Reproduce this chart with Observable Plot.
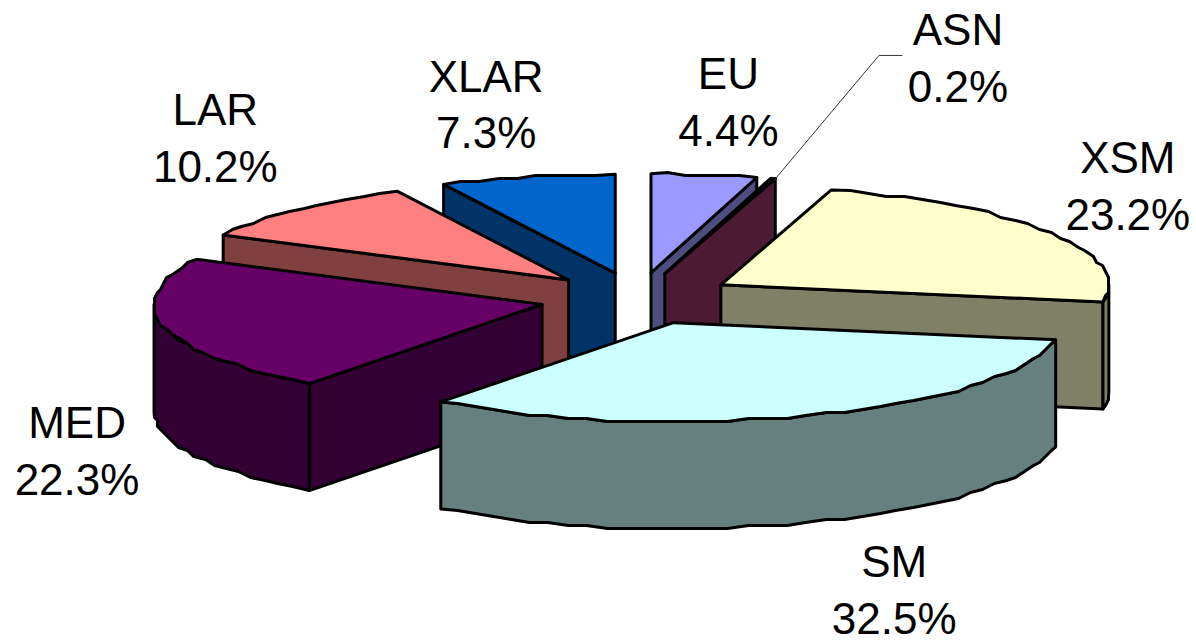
<!DOCTYPE html>
<html>
<head>
<meta charset="utf-8">
<style>html,body{margin:0;padding:0;background:#fff}svg{display:block}</style>
<script src="https://cdn.jsdelivr.net/npm/d3@7"></script>
<script src="https://cdn.jsdelivr.net/npm/@observablehq/plot@0.6"></script>
</head>
<body>
<div id="chart"></div>
<script>
// Data
const categories = ["EU", "ASN", "XSM", "SM", "MED", "LAR", "XLAR"];
const shares = [4.4, 0.2, 23.2, 32.5, 22.3, 10.2, 7.3];

// Styles
const topColors = ["#9999ff", "#993366", "#ffffcc", "#ccffff", "#660066", "#ff8080", "#0066cc"];
const wallColors = ["#4d4d80", "#4d1a33", "#808066", "#668080", "#330033", "#804040", "#003366"];
const drawOrder = ["EU", "ASN", "XLAR", "LAR", "XSM", "MED", "SM"];

// Layout of the projected pie (pixels on the 1196x644 canvas)
const W = 1196, H = 644;
const centerX = 637, centerY = 298, radiusX = 388, radiusY = 99, depthPx = 107;
const explodeX = 98 / radiusX, explodeY = 26 / radiusY;
const labelDx = [24, 185, 77, 78, -87, -81, -41];
const labelDy = [-75, -123, -49, 173, 122, -74, -75];
const depth = depthPx / radiusY;
const step = 3 * Math.PI / 180;
const snapPx = 3; // the reference rim is slightly stepped, not smooth

const arcs = d3.pie().sort(null).value(d => d)(shares);
const slices = categories.map((name, i) => {
  const a0 = arcs[i].startAngle, a1 = arcs[i].endAngle, mid = (a0 + a1) / 2;
  const ox = explodeX * Math.sin(mid), oy = -explodeY * Math.cos(mid);
  const rim = a => ({u: ox + Math.sin(a), v: oy - Math.cos(a)});
  const snap = p => ({
    u: Math.round(p.u * radiusX / snapPx) * snapPx / radiusX,
    v: Math.round(p.v * radiusY / snapPx) * snapPx / radiusY
  });
  const sweep = (from, to) => {
    const n = Math.max(1, Math.ceil((to - from) / step));
    return d3.range(n + 1).map(k => {
      const p = rim(from + (to - from) * k / n);
      return k === 0 || k === n ? p : snap(p);
    });
  };
  return {name, i, a0, a1, mid, ox, oy, rim, sweep};
});
const drop = p => ({u: p.u, v: p.v + depth});

function faces(s) {
  const apex = {u: s.ox, v: s.oy};
  const out = [];
  const cutFace = a => {
    const r = s.rim(a);
    out.push({pts: [apex, r, drop(r), drop(apex)], fill: wallColors[s.i]});
  };
  if (Math.sin(s.a0) < 0) cutFace(s.a0);
  if (Math.sin(s.a1) > 0) cutFace(s.a1);
  // Outer wall: only the front half of the rim (between 90° and 270°)
  const from = Math.max(s.a0, Math.PI / 2), to = Math.min(s.a1, 3 * Math.PI / 2);
  if (to > from) {
    const arc = s.sweep(from, to);
    out.push({pts: [...arc, ...arc.slice().reverse().map(drop)], fill: wallColors[s.i]});
  }
  out.push({pts: [apex, ...s.sweep(s.a0, s.a1)], fill: topColors[s.i]});
  return out;
}

const faceMarks = drawOrder.flatMap(name =>
  faces(slices[categories.indexOf(name)]).map(f =>
    Plot.line(f.pts, {
      x: "u", y: "v", fill: f.fill, stroke: "#000", strokeWidth: 3,
      strokeLinejoin: "round", curve: "linear-closed"
    })
  )
);

const labels = slices.map(s => {
  const r = s.rim(s.mid);
  return {
    u: r.u + labelDx[s.i] / radiusX,
    v: r.v + labelDy[s.i] / radiusY,
    text: `${s.name}\n${d3.format(".1f")(shares[s.i])}%`
  };
});

// Leader from the ASN slice to its label
const asn = slices[categories.indexOf("ASN")];
const asnRim = asn.rim(asn.mid);
const asnLabel = labels[asn.i];
const leader = [
  {u: asnRim.u + 1 / radiusX, v: asnRim.v + 2 / radiusY},
  {u: asnLabel.u - 79 / radiusX, v: asnLabel.v},
  {u: asnLabel.u - 56 / radiusX, v: asnLabel.v}
];

const chart = Plot.plot({
  width: W, height: H,
  marginTop: 0, marginRight: 0, marginBottom: 0, marginLeft: 0,
  style: {background: "#fff", fontFamily: "'Liberation Sans', Arial, sans-serif"},
  x: {domain: [-centerX / radiusX, (W - centerX) / radiusX], range: [0, W], axis: null},
  y: {domain: [-centerY / radiusY, (H - centerY) / radiusY], range: [0, H], axis: null},
  marks: [
    ...faceMarks,
    Plot.line(leader, {x: "u", y: "v", stroke: "#333", strokeWidth: 1}),
    Plot.text(labels, {x: "u", y: "v", text: "text", fontSize: 44, lineHeight: 1.295, fill: "#000", textAnchor: "middle"})
  ]
});
document.getElementById("chart").append(chart);
</script>
</body>
</html>
